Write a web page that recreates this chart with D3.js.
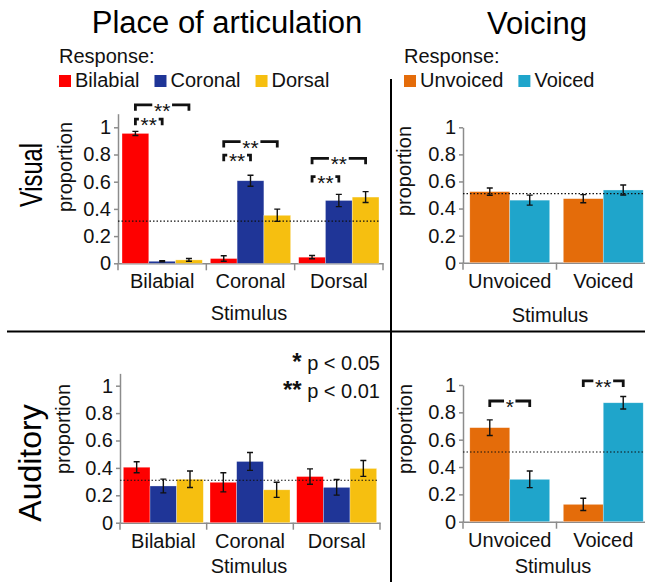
<!DOCTYPE html>
<html>
<head>
<meta charset="utf-8">
<script src="https://cdn.jsdelivr.net/npm/d3@7"></script>
<style>
  body { margin: 0; background: #fff; }
  svg { display: block; font-family: "Liberation Sans", Arial, sans-serif; }
</style>
</head>
<body>
<svg></svg>
<script>
const size = {w: 645, h: 582};

// place of articulation
const placeCats = ['Bilabial', 'Coronal', 'Dorsal'];
const placeResp = ['Bilabial', 'Coronal', 'Dorsal'];
const placeColors = ['#fe0000', '#1f3597', '#f6bf10'];
const visPlaceMeans = [[0.955, 0.015, 0.025], [0.035, 0.607, 0.353], [0.045, 0.462, 0.487]];
const visPlaceErr = [[0.015, 0.004, 0.01], [0.02, 0.04, 0.045], [0.012, 0.045, 0.04]];
const audPlaceMeans = [[0.405, 0.268, 0.317], [0.295, 0.447, 0.24], [0.337, 0.258, 0.396]];
const audPlaceErr = [[0.04, 0.05, 0.06], [0.07, 0.065, 0.055], [0.056, 0.057, 0.058]];
const placeChance = 0.31;

// voicing
const voiceCats = ['Unvoiced', 'Voiced'];
const voiceResp = ['Unvoiced', 'Voiced'];
const voiceColors = ['#e46c0a', '#1fa5cb'];
const visVoiceMeans = [[0.525, 0.462], [0.473, 0.537]];
const visVoiceErr = [[0.027, 0.037], [0.03, 0.037]];
const audVoiceMeans = [[0.688, 0.31], [0.127, 0.87]];
const audVoiceErr = [[0.057, 0.061], [0.045, 0.046]];
const voiceChance = 0.51;

// significance brackets: stimulus, response from -> to, level (proportion units)
const visPlaceSig = [
    {cat: 'Bilabial', from: 0, to: 1, level: 1.06, label: '**'},
    {cat: 'Bilabial', from: 0, to: 2, level: 1.165, label: '**'},
    {cat: 'Coronal', from: 0, to: 1, level: 0.795, label: '**'},
    {cat: 'Coronal', from: 0, to: 2, level: 0.895, label: '**'},
    {cat: 'Dorsal', from: 0, to: 1, level: 0.638, label: '**'},
    {cat: 'Dorsal', from: 0, to: 2, level: 0.772, label: '**'}
];
const audVoiceSig = [
    {cat: 'Unvoiced', from: 0, to: 1, level: 0.883, label: '*'},
    {cat: 'Voiced', from: 0, to: 1, level: 1.03, label: '**'}
];

const yTicks = [0, 0.2, 0.4, 0.6, 0.8, 1];

const svg = d3.select('svg')
    .attr('width', size.w)
    .attr('height', size.h);

const panels = [
    {cats: placeCats, resp: placeResp, colors: placeColors, means: visPlaceMeans, errs: visPlaceErr,
     chance: placeChance, sig: visPlaceSig, xr: [118, 383], y0: 263.3, unit: 136, top: 1.1, pad: 0.15,
     labX: 72, labY: 167, stimX: 249, stimY: 320, catY: 288.3},
    {cats: voiceCats, resp: voiceResp, colors: voiceColors, means: visVoiceMeans, errs: visVoiceErr,
     chance: voiceChance, sig: [], xr: [463, 650], y0: 262.7, unit: 135.4, top: 1, pad: 0.17,
     labX: 411, labY: 171, stimX: 550, stimY: 321.7, catY: 288.3},
    {cats: placeCats, resp: placeResp, colors: placeColors, means: audPlaceMeans, errs: audPlaceErr,
     chance: placeChance, sig: [], xr: [120, 380], y0: 522.7, unit: 137, top: 1.09, pad: 0.125,
     labX: 70, labY: 429, stimX: 249, stimY: 573, catY: 548.3},
    {cats: voiceCats, resp: voiceResp, colors: voiceColors, means: audVoiceMeans, errs: audVoiceErr,
     chance: voiceChance, sig: audVoiceSig, xr: [463, 650], y0: 521.7, unit: 136.7, top: 1, pad: 0.17,
     labX: 412, labY: 429, stimX: 553, stimY: 573, catY: 550}
];

panels.forEach(p => {
    const g = svg.append('g');

    const x = d3.scaleBand().domain(p.cats).range(p.xr).padding(0);
    const xs = d3.scaleBand().domain(d3.range(p.resp.length))
        .range([0, x.bandwidth()]).paddingInner(0).paddingOuter(p.pad);
    const y = d3.scaleLinear().domain([0, p.top]).range([p.y0, p.y0 - p.top * p.unit]);

    // y axis
    const yAxis = g.append('g')
        .attr('transform', `translate(${p.xr[0]},0)`)
        .call(d3.axisLeft(y).tickValues(yTicks).tickSizeInner(4).tickSizeOuter(0).tickPadding(3)
            .tickFormat(d3.format('~g')));
    yAxis.select('.domain').attr('stroke', '#8c8c8c').attr('stroke-width', 1.5);
    yAxis.selectAll('.tick line').attr('stroke', '#8c8c8c').attr('stroke-width', 1.5);
    yAxis.selectAll('.tick text').attr('font-size', 20).attr('fill', '#111')
        .attr('font-family', '"Liberation Sans", Arial, sans-serif');

    // x axis
    const xAxis = g.append('g')
        .attr('transform', `translate(0,${p.y0})`)
        .call(d3.axisBottom(x).tickSize(0).tickPadding(11).tickSizeOuter(0));
    xAxis.select('.domain').attr('stroke', '#8c8c8c').attr('stroke-width', 1.5);
    xAxis.selectAll('.tick text').attr('font-size', 20).attr('fill', '#111')
        .attr('font-family', '"Liberation Sans", Arial, sans-serif');
    const bounds = p.cats.map(c => x(c)).concat([x.range()[1]]);
    g.append('g').selectAll('line')
        .data(bounds)
        .join('line')
        .attr('x1', d => d).attr('x2', d => d)
        .attr('y1', p.y0).attr('y2', p.y0 + 7)
        .attr('stroke', '#8c8c8c').attr('stroke-width', 1.5);

    // bars
    const cells = [];
    p.cats.forEach((c, i) => p.resp.forEach((r, j) => {
        cells.push({cat: c, j: j, v: p.means[i][j], e: p.errs[i][j]});
    }));

    g.append('g').selectAll('rect')
        .data(cells)
        .join('rect')
        .attr('x', d => x(d.cat) + xs(d.j))
        .attr('width', xs.bandwidth())
        .attr('y', d => y(d.v))
        .attr('height', d => y(0) - y(d.v))
        .attr('fill', d => p.colors[d.j])
        .attr('stroke', '#fff').attr('stroke-opacity', 0.5).attr('stroke-width', 0.6);

    // chance line
    g.append('line')
        .attr('x1', p.xr[0]).attr('x2', p.xr[1] - 3)
        .attr('y1', y(p.chance)).attr('y2', y(p.chance))
        .attr('stroke', '#111').attr('stroke-width', 1.2)
        .attr('stroke-dasharray', '1.5,2');

    // error bars
    const eb = g.append('g').attr('stroke', '#111').attr('stroke-width', 1.4).attr('fill', 'none');
    eb.selectAll('path')
        .data(cells)
        .join('path')
        .attr('d', d => {
            const cx = x(d.cat) + xs(d.j) + xs.bandwidth() / 2;
            const hi = y(d.v + d.e), lo = y(d.v - d.e);
            return `M${cx - 3},${hi}H${cx + 3}M${cx},${hi}V${lo}M${cx - 3},${lo}H${cx + 3}`;
        });

    // significance brackets
    const sg = g.append('g');
    p.sig.forEach(s => {
        const xa = x(s.cat) + xs(s.from) + xs.bandwidth() / 2;
        const xb = x(s.cat) + xs(s.to) + xs.bandwidth() / 2;
        const yy = y(s.level);
        const mid = (xa + xb) / 2;
        const half = s.label.length * 4.2 + 1.5;
        sg.append('path')
            .attr('d', `M${xa},${yy + 6}V${yy}H${mid - half}M${mid + half},${yy}H${xb}V${yy + 6}`)
            .attr('fill', 'none').attr('stroke', '#111').attr('stroke-width', 2.8);
        sg.append('text')
            .attr('x', mid).attr('y', yy + 13)
            .attr('text-anchor', 'middle')
            .attr('font-size', 21)
            .attr('fill', '#111')
            .text(s.label);
    });

    // axis labels
    g.append('text')
        .attr('transform', `translate(${p.labX},${p.labY}) rotate(-90)`)
        .attr('text-anchor', 'middle')
        .attr('font-size', 20)
        .attr('fill', '#111')
        .text('proportion');
    g.append('text')
        .attr('x', p.stimX).attr('y', p.stimY)
        .attr('text-anchor', 'middle')
        .attr('font-size', 20)
        .attr('fill', '#111')
        .text('Stimulus');
});

// titles
svg.append('text').attr('x', 227).attr('y', 33).attr('text-anchor', 'middle')
    .attr('font-size', 31).text('Place of articulation');
svg.append('text').attr('x', 537).attr('y', 34).attr('text-anchor', 'middle')
    .attr('font-size', 31).text('Voicing');

svg.append('text').attr('transform', 'translate(42,175) rotate(-90)').attr('text-anchor', 'middle')
    .attr('font-size', 32).attr('textLength', 64).attr('lengthAdjust', 'spacingAndGlyphs')
    .text('Visual');
svg.append('text').attr('transform', 'translate(41,463) rotate(-90)').attr('text-anchor', 'middle')
    .attr('font-size', 32).text('Auditory');

// legends
function legend(x0, names, colors) {
    const lg = svg.append('g');
    lg.append('text').attr('x', x0).attr('y', 63).attr('font-size', 20).attr('fill', '#111').text('Response:');
    let cx = x0;
    names.forEach((n, i) => {
        lg.append('rect').attr('x', cx).attr('y', 75).attr('width', 12).attr('height', 12).attr('fill', colors[i]);
        const t = lg.append('text').attr('x', cx + 16).attr('y', 86.7).attr('font-size', 20)
            .attr('fill', '#111').text(n);
        cx += 16 + t.node().getComputedTextLength() + 15;
    });
}
legend(59, placeResp, placeColors);
legend(404, voiceResp, voiceColors);

// significance note
const note = svg.append('g').attr('font-size', 20).attr('fill', '#111').attr('text-anchor', 'end');
[['*', ' p < 0.05', 370], ['**', ' p < 0.01', 398]].forEach(r => {
    const t = note.append('text').attr('x', 380).attr('y', r[2]);
    t.append('tspan').attr('font-weight', 'bold').attr('font-size', 24).text(r[0]);
    t.append('tspan').text(r[1]);
});

// dividers
svg.append('line').attr('x1', 7).attr('x2', size.w).attr('y1', 331.5).attr('y2', 331.5)
    .attr('stroke', '#000').attr('stroke-width', 2);
svg.append('line').attr('x1', 391).attr('x2', 391).attr('y1', 79).attr('y2', size.h)
    .attr('stroke', '#000').attr('stroke-width', 2);
</script>
</body>
</html>
